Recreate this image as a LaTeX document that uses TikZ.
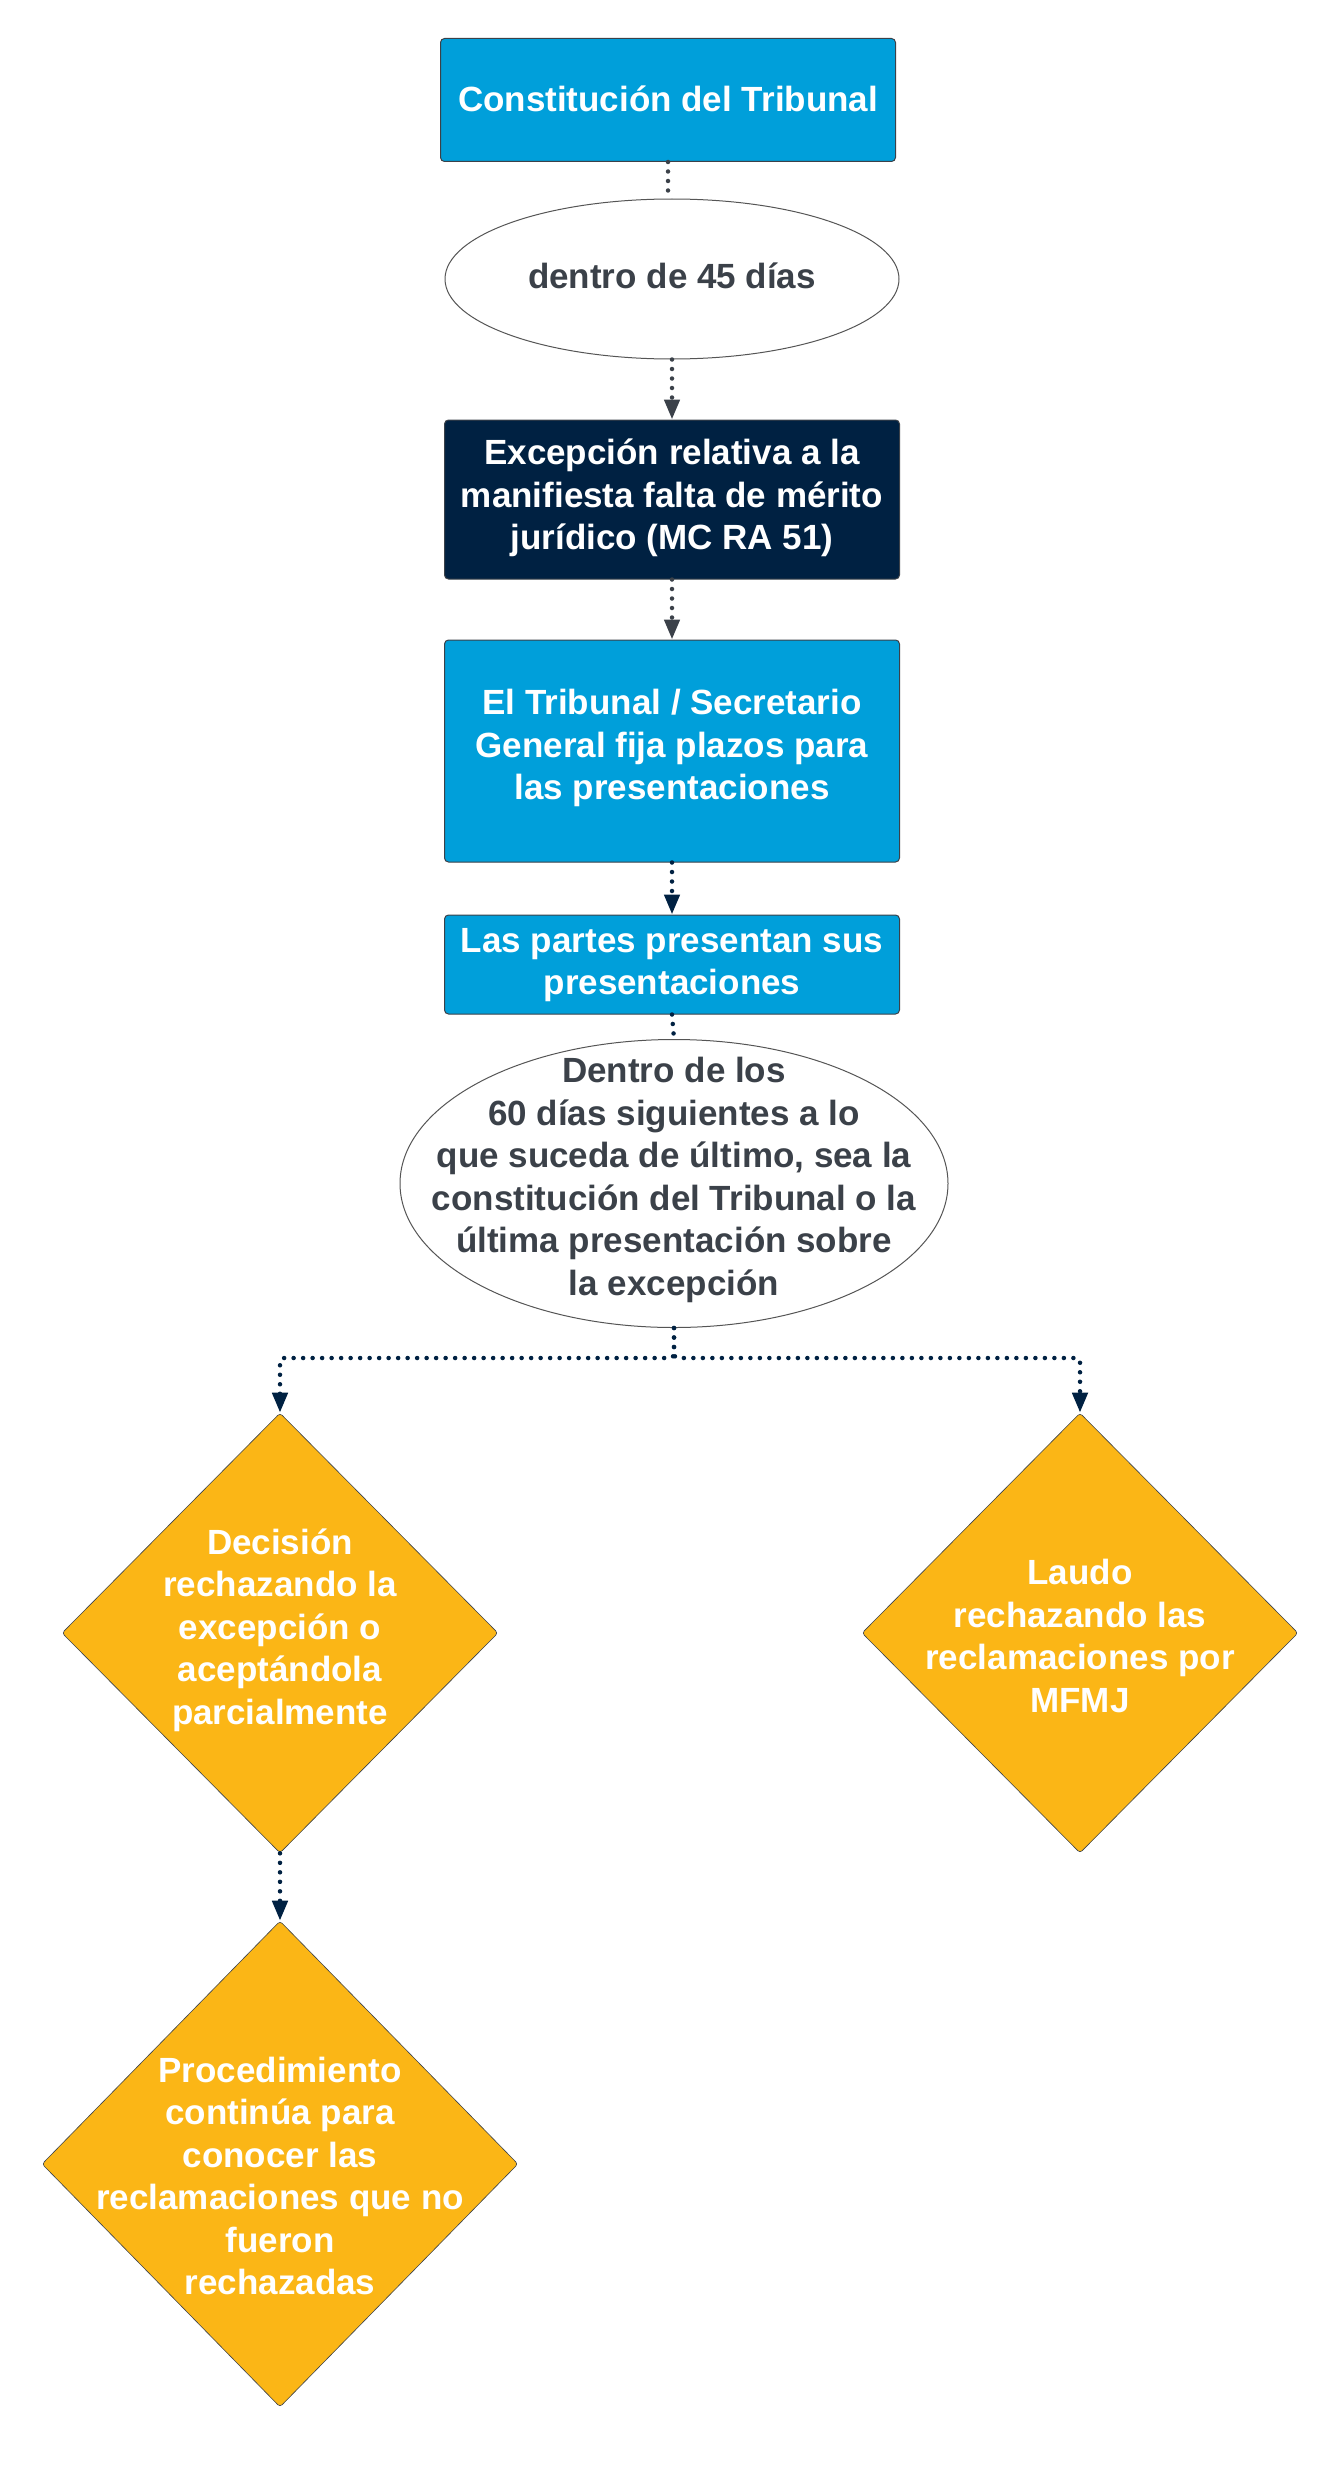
\documentclass[tikz,border=0pt]{standalone}
\usepackage{fontspec}
\setmainfont{Liberation Sans}
\usetikzlibrary{shapes.geometric,arrows.meta}
\definecolor{cblue}{RGB}{0,159,218}
\definecolor{cnavy}{RGB}{0,33,66}
\definecolor{cyellow}{RGB}{251,182,22}
\definecolor{cgrey}{RGB}{59,65,73}
\definecolor{cedge}{RGB}{85,85,85}
\tikzset{
  txt/.style={font=\fontsize{35}{42.5}\selectfont\bfseries, align=center},
  boxa/.style={draw=cgrey, line width=1pt, rounded corners=4pt, fill=cblue, text=white, txt, inner sep=0pt},
  boxd/.style={draw=cgrey, line width=1pt, rounded corners=4pt, fill=cnavy, text=white, txt, inner sep=0pt},
  ell/.style={ellipse, draw=cedge, line width=1pt, fill=white, inner sep=0pt},
  dia/.style={diamond, draw=cgrey, line width=0.6pt, fill=cyellow, rounded corners=3pt, inner sep=0pt},
  dots/.style={line width=4.5pt, dash pattern=on 0pt off 9.5pt, line cap=round},
  tip/.style={-{Triangle[length=20pt,width=15pt]}}
}
\begin{document}
\begin{tikzpicture}[x=1pt,y=-1pt]
\useasboundingbox (0,0) rectangle (1340,2467);
% boxes
\node[boxa, minimum width=455, minimum height=123] (b1) at (668,100) {};
\node[txt, text=white] (t1) at (668,99) {Constitución del Tribunal};
\node[ell, minimum width=454, minimum height=160] (e1) at (672,279) {};
\node[txt, text=cgrey] (te1) at (672,276) {dentro de 45 días};
\node[boxd, minimum width=455, minimum height=159] (b2) at (672,499.5) {};
\node[txt, text=white] (t2) at (672,498) {Excepción relativa a la\\manifiesta falta de mérito\\jurídico (MC RA 51)};
\node[boxa, minimum width=455, minimum height=222] (b3) at (672,751) {};
\node[txt, text=white] (t3) at (672,748) {El Tribunal / Secretario\\General fija plazos para\\las presentaciones};
\node[boxa, minimum width=455, minimum height=99] (b4) at (672,964.5) {};
\node[txt, text=white] (t4) at (672,965) {Las partes presentan sus\\presentaciones};
\node[ell, minimum width=548, minimum height=288] (e2) at (674,1183.5) {};
\node[txt, text=cgrey] (te2) at (674,1180) {Dentro de los\\60 días siguientes a lo\\que suceda de último, sea la\\constitución del Tribunal o la\\última presentación sobre\\la excepción};
% diamonds
\node[dia, minimum width=436, minimum height=440] (d1) at (280,1633) {};
\node[txt, text=white] (td1) at (280,1630) {Decisión\\rechazando la\\excepción o\\aceptándola\\parcialmente};
\node[dia, minimum width=436, minimum height=440] (d2) at (1080,1633) {};
\node[txt, text=white] (td2) at (1080,1636) {Laudo\\rechazando las\\reclamaciones por\\MFMJ};
\node[dia, minimum width=476, minimum height=486] (d3) at (280,2164) {};
\node[txt, text=white] (td3) at (280,2176) {Procedimiento\\continúa para\\conocer las\\reclamaciones que no\\fueron\\rechazadas};
% connectors
\draw[dots, cgrey] (b1.south) -- (b1.south |- e1.north);
\draw[dots, cgrey, tip] (e1.south) -- (b2.north);
\draw[dots, cgrey, tip] (b2.south) -- (b3.north);
\draw[dots, cnavy, tip] (b3.south) -- (b4.north);
\draw[dots, cnavy] (b4.south) -- (e2.north);
\coordinate (j) at (674,1358);
\draw[dots, cnavy, tip, rounded corners=4pt] (e2.south) -- (j) -| (d1.north);
\draw[dots, cnavy, tip, rounded corners=4pt] (e2.south) -- (j) -| (d2.north);
\draw[dots, cnavy, tip] (d1.south) -- (d3.north);
\end{tikzpicture}
\end{document}
